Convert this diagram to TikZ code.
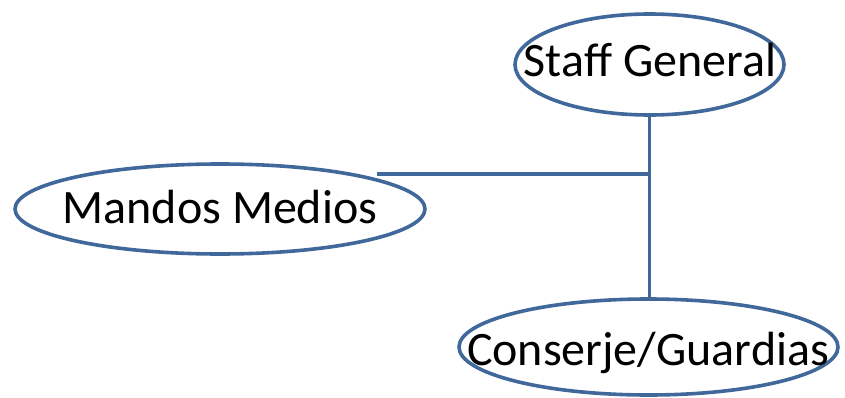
\documentclass[tikz,border=0pt]{standalone}
\usepackage{fontspec}
\setmainfont{Carlito}
\usetikzlibrary{shapes.geometric}
\definecolor{lineblue}{HTML}{41689A}
\tikzset{
  oval/.style={ellipse, draw=lineblue, line width=3.6pt, fill=white, inner sep=0pt},
  txt/.style={anchor=base, inner sep=0pt, font=\fontsize{48}{58}\selectfont},
  conn/.style={draw=lineblue, line width=3.6pt}
}
\begin{document}
\begin{tikzpicture}[x=1pt,y=1pt]
\useasboundingbox (0,0) rectangle (845,397);
\node[oval, minimum width=269pt, minimum height=101pt] (sg) at (649.5,332.5) {};
\node[oval, minimum width=410pt, minimum height=90pt] (mm) at (220,188) {};
\node[oval, minimum width=379pt, minimum height=96pt] (cg) at (648.5,50) {};
\node[txt] (tsg) at (650,320) {Staff General};
\node[txt] (tmm) at (220,174) {Mandos Medios};
\node[txt] (tcg) at (648,32) {Conserje/Guardias};
\coordinate (j) at (649,223);
\draw[conn] (sg.south) -- (sg.south |- cg.north);
\draw[conn] (j) -- (j -| mm.11);
\end{tikzpicture}
\end{document}
